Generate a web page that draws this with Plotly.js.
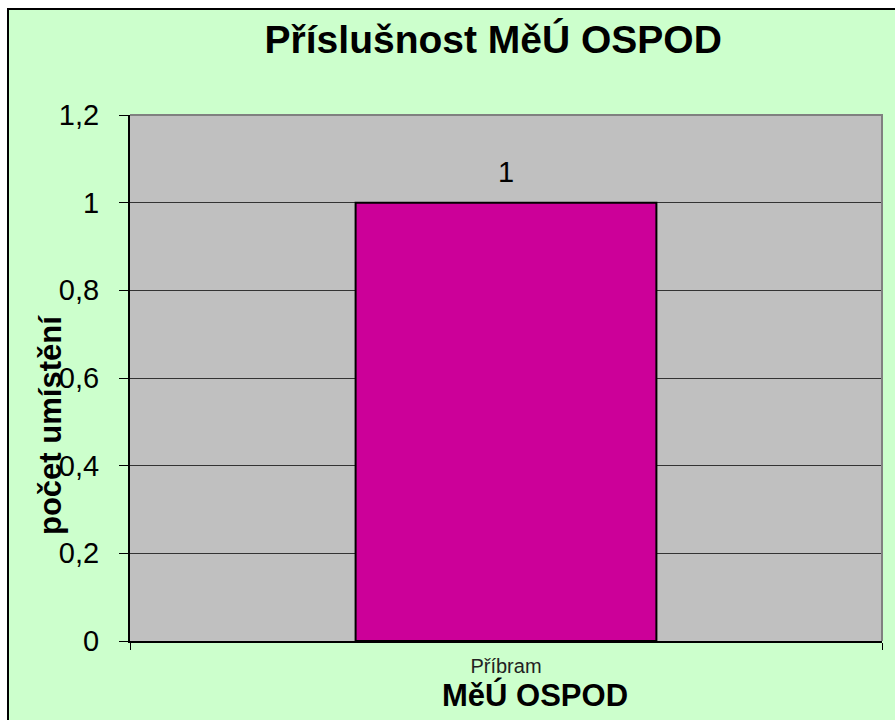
<!DOCTYPE html>
<html>
<head>
<meta charset="utf-8">
<script src="https://cdn.plot.ly/plotly-3.0.1.min.js"></script>
<style>html,body{margin:0;padding:0;background:#fff;}#chart{width:895px;height:720px;}</style>
</head>
<body>
<div id="chart"></div>
<script>
const categories = ["Příbram"];
const values = [1];
const yTickVals = [0, 0.2, 0.4, 0.6, 0.8, 1, 1.2];
const yTickText = ["0", "0,2", "0,4", "0,6", "0,8", "1", "1,2"];
const chartTitle = "Příslušnost MěÚ OSPOD";
const xTitle = "MěÚ OSPOD";
const yTitle = "počet umístění";

const FONT = "'Liberation Sans', Arial, sans-serif";

const trace = {
  type: "bar",
  x: categories,
  y: values,
  width: 0.4,
  marker: { color: "#cc0099", line: { color: "#000000", width: 2 } },
  hoverinfo: "x+y"
};

const layout = {
  width: 895,
  height: 720,
  margin: { l: 130, r: 13, t: 115, b: 79, pad: 0 },
  paper_bgcolor: "#ccffcc",
  plot_bgcolor: "#c0c0c0",
  showlegend: false,
  font: { family: FONT, color: "#000" },
  title: {
    text: "<b>" + chartTitle + "</b>",
    font: { family: FONT, size: 39, color: "#000" },
    xref: "paper", x: 0.483, xanchor: "center",
    yref: "container", y: 0.945, yanchor: "middle"
  },
  xaxis: {
    type: "category",
    range: [-0.5, 0.5],
    showgrid: false,
    zeroline: false,
    showline: true, linecolor: "#000", linewidth: 2,
    ticks: "outside", tickson: "boundaries", ticklen: 7, tickcolor: "#000", tickwidth: 1,
    ticklabelstandoff: 6,
    tickfont: { family: FONT, size: 20, color: "#222" },
    fixedrange: true
  },
  yaxis: {
    range: [0, 1.2],
    tickvals: yTickVals,
    ticktext: yTickText,
    showgrid: true, gridcolor: "#333", gridwidth: 1,
    zeroline: false,
    showline: true, linecolor: "#000", linewidth: 2,
    ticks: "outside", ticklen: 9, tickcolor: "#000", tickwidth: 1,
    ticklabelstandoff: 14,
    tickfont: { family: FONT, size: 29, color: "#000" },
    fixedrange: true
  },
  annotations: [
    {
      x: categories[0], y: values[0], xref: "x", yref: "y",
      text: String(values[0]).replace(".", ","),
      showarrow: false, yanchor: "middle", yshift: 31,
      font: { family: FONT, size: 29, color: "#000" }
    },
    {
      xref: "paper", yref: "paper",
      x: (50 - 130) / 752, y: (641 - 425) / 526,
      xanchor: "center", yanchor: "middle",
      text: "<b>" + yTitle + "</b>", textangle: -90,
      showarrow: false,
      font: { family: FONT, size: 31, color: "#000" }
    },
    {
      xref: "paper", yref: "paper",
      x: (535 - 130) / 752, y: (641 - 695) / 526,
      xanchor: "center", yanchor: "middle",
      text: "<b>" + xTitle + "</b>",
      showarrow: false,
      font: { family: FONT, size: 31, color: "#000" }
    }
  ],
  shapes: [
    { type: "rect", xref: "paper", yref: "paper", layer: "above",
      x0: -0.2, x1: 1.05, y0: (641 - 9) / 526, y1: 1.3,
      fillcolor: "#ffffff", line: { width: 0 } },
    { type: "rect", xref: "paper", yref: "paper", layer: "above",
      x0: -0.2, x1: (8 - 130) / 752, y0: -0.2, y1: 1.3,
      fillcolor: "#ffffff", line: { width: 0 } },
    { type: "path", xref: "paper", yref: "paper", layer: "above",
      path: "M " + ((8 - 130) / 752) + " -0.2 L " + ((8 - 130) / 752) + " " + ((641 - 9) / 526) + " L 1.05 " + ((641 - 9) / 526),
      line: { color: "#000", width: 2 } },
    { type: "path", xref: "paper", yref: "paper", layer: "above",
      path: "M 0 1 L 1 1 L 1 0",
      line: { color: "#808080", width: 2 } }
  ]
};

Plotly.newPlot("chart", [trace], layout, { displayModeBar: false, staticPlot: true });
</script>
</body>
</html>
